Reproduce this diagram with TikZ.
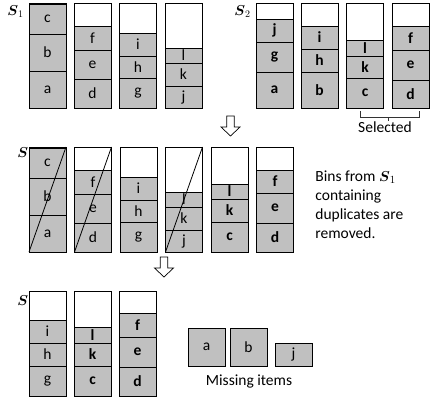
\documentclass[tikz,border=0pt]{standalone}
\usepackage{amsmath}
\usepackage{fontspec}
\setmainfont{Carlito}
\usetikzlibrary{positioning}
\definecolor{itemgray}{RGB}{192,192,192}
\newcommand\binstack[5][]{%
	\foreach \hgt/\lab [count=\i, remember=\i as \j (initially 0)] in {#5} {
		\ifnum\i=1 \node[item,#1,minimum height=\hgt pt] (#2-\i) at (#3,#4) {\lab};
		\else \node[item,#1,minimum height=\hgt pt,above=0pt of #2-\j] (#2-\i) {\lab};
		\fi}
	\node[bin] (#2) at (#3,#4) {};
}

\begin{document}
\begin{tikzpicture}[x=1pt,y=-1pt,line width=.8pt,
	txt/.style={font=\fontsize{15.5}{19}\selectfont},
	item/.style={draw,fill=itemgray,minimum width=37pt,inner sep=0pt,outer sep=0pt,anchor=south west,txt},
	bold/.style={font=\fontsize{15.5}{19}\selectfont\bfseries},
	bin/.style={draw,minimum width=37pt,minimum height=105pt,inner sep=0pt,outer sep=0pt,anchor=south west},
	setlab/.style={anchor=base west,inner sep=0pt,font=\fontsize{14.5}{16}\selectfont}]
	\tikzset{downarrow/.pic={\draw[line width=.7pt] (-3.8,0) -- (-3.8,11) -- (-9.5,11) -- (0,20) -- (9.5,11) -- (3.8,11) -- (3.8,0) -- cycle;}}
	\useasboundingbox (0,0) rectangle (430,405);
	% S1 and S2
	\node[setlab] (S1) at (7,15) {$\boldsymbol{S}_1$};
	\binstack{s1a}{29}{108}{37/a,37/b,30/c}
	\binstack{s1b}{74}{108}{29/d,29/e,24/f}
	\binstack{s1c}{119.5}{108}{30/g,22/h,23/i}
	\binstack{s1d}{165}{108}{22/j,23/k,15/l}
	\node[setlab] (S2) at (234,15) {$\boldsymbol{S}_2$};
	\binstack[bold]{s2a}{256}{108}{36/a,30/g,23/j}
	\binstack[bold]{s2b}{301}{108}{36/b,23/h,23/i}
	\binstack[bold]{s2c}{346.5}{108}{30/c,22/k,16/l}
	\binstack[bold]{s2d}{392}{108}{28/d,30/e,24/f}
	\draw[line width=.6pt,black!80] (360,111) |- (419,117) -- (419,111) (388.5,117) -- (388.5,121);
	\node[txt] (sel) at (385,127) {Selected};
	\pic at (230.5,116) {downarrow};
	% merged S
	\node[setlab] (S) at (17,157) {$\boldsymbol{S}$};
	\binstack{m1}{29}{252}{37/a,37/b,30/c}
	\binstack{m2}{74.5}{252}{29/d,29/e,24/f}
	\binstack{m3}{120}{252}{30/g,22/h,23/i}
	\binstack{m4}{165.5}{252}{22/j,23/k,15/l}
	\binstack[bold]{m5}{211}{252}{30/c,23/k,15/l}
	\binstack[bold]{m6}{256.5}{252}{29/d,30/e,23/f}
	\foreach \b in {m1,m2,m4}
		\draw (\b.south west) -- (\b.north east);
	\node[txt,align=left,anchor=west,inner sep=0pt] (note) at (315,205)
		{Bins from $\boldsymbol{S}_1$\\containing\\duplicates are\\removed.};
	\pic at (164,257) {downarrow};
	% result
	\node[setlab] (Sr) at (17,305) {$\boldsymbol{S}$};
	\binstack{r1}{29}{396}{30/g,23/h,23/i}
	\binstack[bold]{r2}{74}{396}{30/c,23/k,16/l}
	\binstack[bold]{r3}{119}{396}{29/d,30/e,24/f}
	\node[item,minimum height=38pt] (ma) at (188,366) {a};
	\node[item,minimum height=38pt,right=5pt of ma] (mb) {b};
	\node[item,minimum height=23pt,anchor=south west] (mj) at (275,366) {j};
	\node[txt] (miss) at (249,381) {Missing items};
\end{tikzpicture}
\end{document}
